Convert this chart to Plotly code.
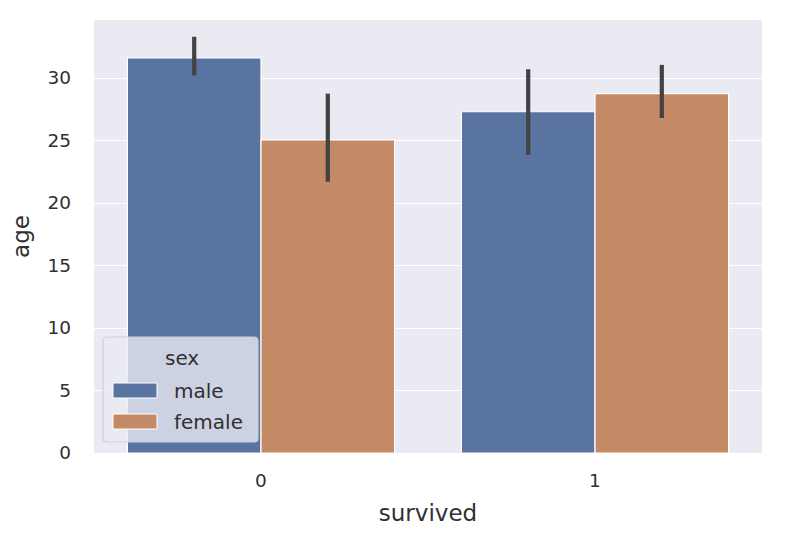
import plotly.graph_objects as go

categories = ["0", "1"]
sexes = ["male", "female"]
age_mean = {"male": [31.6, 27.3], "female": [25.05, 28.75]}
ci_high = {"male": [33.3, 30.7], "female": [28.75, 31.05]}
ci_low = {"male": [30.2, 23.85], "female": [21.7, 26.8]}
colors = {"male": "#5a74a1", "female": "#c48a66"}

fig = go.Figure()
for s in sexes:
    m = age_mean[s]
    fig.add_trace(go.Bar(
        x=[0, 1], y=m, name=s, offsetgroup=s, showlegend=False,
        marker=dict(color=colors[s], line=dict(color="white", width=1.2)),
        error_y=dict(type="data", symmetric=False,
                     array=[h - v for h, v in zip(ci_high[s], m)],
                     arrayminus=[v - l for l, v in zip(ci_low[s], m)],
                     color="#424242", thickness=4.2, width=0),
    ))

# plot area geometry (screen pixels) used only to place the hand-built legend
W, H = 782, 528
L, R, T, B = 86, 28, 12, 83
PW, PH = W - L - R, H - T - B
OFF = 8  # page body offset


def px(x):
    return (x - OFF - L) / PW


def py(y):
    return (H - B - (y - OFF)) / PH


shapes = []
x0, x1, y0, y1 = px(103), px(258), py(442), py(337)
rx, ry = 4 / PW, 4 / PH
path = (f"M {x0+rx},{y0} L {x1-rx},{y0} Q {x1},{y0} {x1},{y0+ry} "
        f"L {x1},{y1-ry} Q {x1},{y1} {x1-rx},{y1} L {x0+rx},{y1} "
        f"Q {x0},{y1} {x0},{y1-ry} L {x0},{y0+ry} Q {x0},{y0} {x0+rx},{y0} Z")
shapes.append(dict(type="path", xref="paper", yref="paper", path=path,
                   fillcolor="rgba(234,234,242,0.8)",
                   line=dict(color="#cfcfd6", width=1.2), layer="above"))
annotations = [dict(text="sex", x=px(182), y=py(358), xref="paper", yref="paper",
                    showarrow=False, xanchor="center", yanchor="middle",
                    font=dict(size=20))]
patch_y = {"male": (383, 398), "female": (414, 429)}
text_y = {"male": 391, "female": 422}
for s in sexes:
    ya, yb = patch_y[s]
    shapes.append(dict(type="rect", xref="paper", yref="paper",
                       x0=px(113), x1=px(157), y0=py(yb), y1=py(ya),
                       fillcolor=colors[s], line=dict(color="white", width=1),
                       layer="above"))
    annotations.append(dict(text=s, x=px(172), y=py(text_y[s]), xref="paper",
                            yref="paper", showarrow=False, xanchor="left",
                            yanchor="middle", font=dict(size=20)))

font = "DejaVu Sans, sans-serif"
fig.update_layout(
    width=W, height=H,
    margin=dict(l=L, r=R, t=T, b=B, autoexpand=False),
    paper_bgcolor="white", plot_bgcolor="#EAEAF2",
    barmode="group", bargap=0.2, bargroupgap=0,
    font=dict(family=font, color="#303030", size=18),
    xaxis=dict(range=[-0.5, 1.5], tickvals=[0, 1], ticktext=categories,
               showgrid=False, zeroline=False, ticks="", ticklabelstandoff=14,
               tickfont=dict(size=18.5),
               title=dict(text="survived", font=dict(size=23), standoff=15)),
    yaxis=dict(range=[0, 34.64], tickvals=[0, 5, 10, 15, 20, 25, 30],
               gridcolor="white", gridwidth=1.3, zeroline=False, ticks="",
               ticklabelstandoff=22, tickfont=dict(size=18.5),
               title=dict(text="age", font=dict(size=23), standoff=12)),
    shapes=shapes,
    annotations=annotations,
    showlegend=False,
)
fig.write_html("out.html")
